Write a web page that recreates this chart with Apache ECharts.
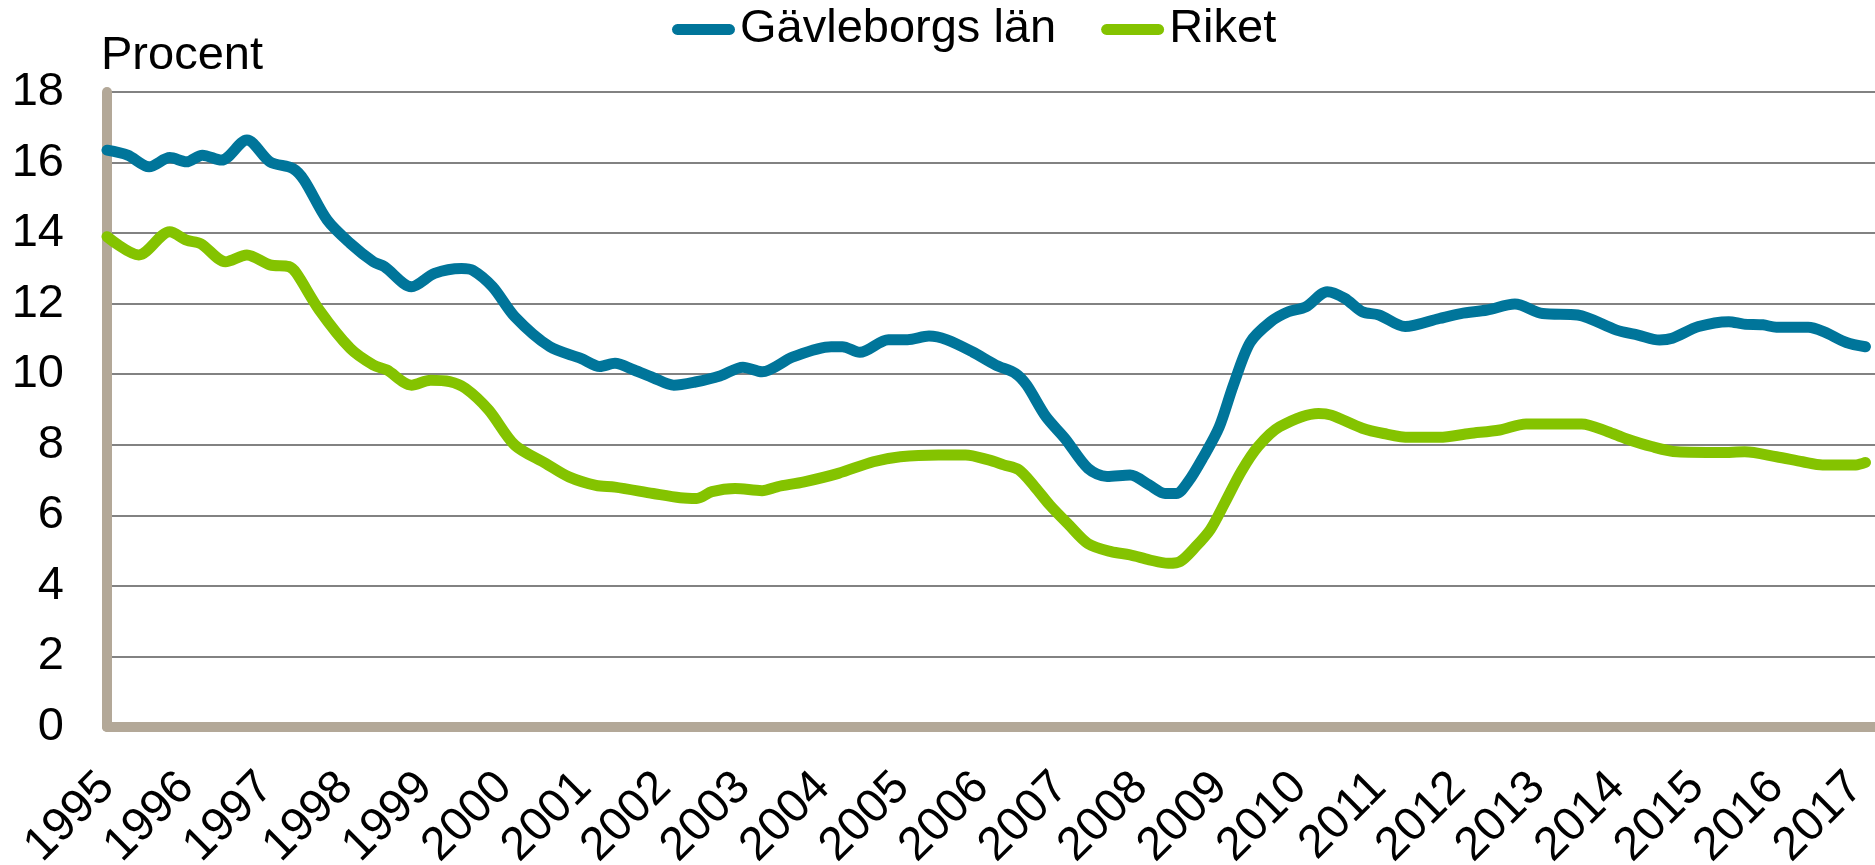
<!DOCTYPE html>
<html>
<head>
<meta charset="utf-8">
<script src="https://cdn.jsdelivr.net/npm/echarts@6/dist/echarts.min.js"></script>
<style>
  html, body { margin: 0; padding: 0; background: #fff; overflow: hidden; width: 1875px; height: 865px; }
  #chart { position: absolute; left: 0; top: 0; width: 1875px; height: 865px; overflow: hidden; }
</style>
</head>
<body>
<div id="chart"></div>
<script>
/* Arbetslöshet, Gävleborgs län och riket, 1995–2017 */
const seriesNames = ["Gävleborgs län", "Riket"];

// [år, procent]
const gavleborg = [
  [1995.00, 16.35], [1995.26, 16.21], [1995.53, 15.88], [1995.79, 16.14], [1996.00, 16.02],
  [1996.20, 16.21], [1996.44, 16.07], [1996.76, 16.64], [1997.05, 16.02], [1997.34, 15.83],
  [1997.48, 15.50], [1997.77, 14.37], [1998.06, 13.71], [1998.35, 13.19], [1998.49, 13.05],
  [1998.83, 12.48], [1999.12, 12.86], [1999.46, 13.00], [1999.60, 12.95], [1999.85, 12.48],
  [2000.13, 11.63], [2000.57, 10.78], [2000.96, 10.45], [2001.20, 10.22], [2001.39, 10.31],
  [2001.63, 10.12], [2001.87, 9.90], [2002.13, 9.69], [2002.40, 9.78], [2002.71, 9.95],
  [2003.00, 10.20], [2003.24, 10.07], [2003.63, 10.49], [2004.11, 10.78], [2004.25, 10.78],
  [2004.47, 10.62], [2004.83, 10.98], [2005.07, 10.98], [2005.34, 11.08], [2005.56, 10.98],
  [2005.89, 10.63], [2006.18, 10.26], [2006.43, 10.02], [2006.57, 9.69], [2006.81, 8.80],
  [2007.05, 8.18], [2007.34, 7.33], [2007.58, 7.10], [2007.87, 7.14], [2008.11, 6.86],
  [2008.31, 6.62], [2008.45, 6.62], [2008.60, 6.95], [2008.79, 7.65], [2008.99, 8.50],
  [2009.17, 9.70], [2009.38, 10.90], [2009.64, 11.49], [2009.86, 11.77], [2010.08, 11.91],
  [2010.35, 12.34], [2010.57, 12.15], [2010.79, 11.77], [2011.00, 11.68], [2011.33, 11.35],
  [2011.76, 11.58], [2012.03, 11.72], [2012.36, 11.82], [2012.71, 11.99], [2013.06, 11.72],
  [2013.50, 11.68], [2013.99, 11.25], [2014.26, 11.11], [2014.53, 10.97], [2014.69, 11.02],
  [2015.02, 11.35], [2015.40, 11.49], [2015.59, 11.42], [2015.83, 11.40], [2016.00, 11.33],
  [2016.40, 11.33], [2016.60, 11.20], [2016.88, 10.90], [2017.12, 10.78]
];

const riket = [
  [1995.00, 13.90], [1995.40, 13.38], [1995.79, 14.04], [1996.00, 13.80], [1996.18, 13.70],
  [1996.49, 13.19], [1996.76, 13.38], [1997.05, 13.10], [1997.29, 13.05], [1997.38, 12.87],
  [1997.67, 11.82], [1998.06, 10.73], [1998.35, 10.26], [1998.52, 10.12], [1998.83, 9.69],
  [1999.07, 9.83], [1999.31, 9.79], [1999.51, 9.60], [1999.80, 8.99], [2000.13, 7.99],
  [2000.52, 7.47], [2000.81, 7.09], [2001.15, 6.85], [2001.39, 6.80], [2001.87, 6.62],
  [2002.21, 6.50], [2002.42, 6.48], [2002.61, 6.67], [2002.90, 6.76], [2003.24, 6.70],
  [2003.43, 6.81], [2003.77, 6.95], [2004.20, 7.19], [2004.64, 7.52], [2004.98, 7.66],
  [2005.46, 7.71], [2005.80, 7.71], [2006.09, 7.57], [2006.28, 7.43], [2006.47, 7.29],
  [2006.67, 6.81], [2006.86, 6.29], [2007.10, 5.73], [2007.34, 5.20], [2007.63, 4.97],
  [2007.87, 4.88], [2008.11, 4.74], [2008.35, 4.64], [2008.50, 4.69], [2008.69, 5.10],
  [2008.88, 5.60], [2009.06, 6.35], [2009.27, 7.25], [2009.48, 7.95], [2009.75, 8.51],
  [2010.24, 8.89], [2010.40, 8.84], [2010.79, 8.47], [2011.06, 8.32], [2011.38, 8.21],
  [2011.76, 8.21], [2012.14, 8.32], [2012.52, 8.42], [2012.85, 8.59], [2013.12, 8.59],
  [2013.55, 8.59], [2013.88, 8.37], [2014.10, 8.18], [2014.43, 7.95], [2014.75, 7.80],
  [2015.30, 7.78], [2015.60, 7.80], [2016.00, 7.66], [2016.33, 7.52], [2016.58, 7.43],
  [2017.00, 7.43], [2017.12, 7.50]
];

const yMin = 0, yMax = 18, yStep = 2;
const xMin = 1995, xMax = 2017.24;

(function () {
  "use strict";
  const el = document.getElementById("chart");
  const chart = echarts.init(el, null, { renderer: "canvas", width: 1875, height: 865 });

  const font = "'Liberation Sans', Arial, sans-serif";
  const blue = "#00759a";
  const green = "#84c300";
  const beige = "#b3a898";
  const grid = "#595959";
  const pill = "path://M5,0 L58,0 A5.5,5.5 0 0 1 58,11 L5,11 A5.5,5.5 0 0 1 5,0 Z";

  // first split line (0) sits under the x axis bar, keep it invisible
  const splitColors = [];
  for (let v = yMin; v <= yMax; v += yStep) splitColors.push(v === yMin ? "rgba(0,0,0,0)" : grid);

  chart.setOption({
    animation: false,
    textStyle: { fontFamily: font, color: "#000" },
    title: {
      text: "Procent",
      left: 101, top: 33, padding: 0,
      textStyle: { fontFamily: font, fontSize: 47, fontWeight: "normal", color: "#000" }
    },
    legend: {
      data: seriesNames,
      left: 672, top: 6, padding: 0,
      itemWidth: 63, itemHeight: 11, itemGap: 45,
      icon: pill,
      textStyle: { fontFamily: font, fontSize: 47, color: "#000" }
    },
    grid: {
      left: 107, right: 0, top: 92, bottom: 138,
      containLabel: false, outerBoundsMode: "none"
    },
    xAxis: {
      type: "value",
      min: xMin, max: xMax, interval: 1,
      offset: 4, z: 3,
      axisLine: { show: true, lineStyle: { color: beige, width: 10 } },
      axisTick: { show: false },
      splitLine: { show: false },
      axisLabel: {
        rotate: 45, margin: 49, fontSize: 47, color: "#000", fontFamily: font,
        formatter: function (v) { return Number.isInteger(v) ? String(v) : ""; }
      }
    },
    yAxis: {
      type: "value",
      min: yMin, max: yMax, interval: yStep,
      axisLine: { show: true, lineStyle: { color: beige, width: 10 } },
      axisTick: { show: false },
      splitLine: { show: true, lineStyle: { color: splitColors, width: 1.5 } },
      axisLabel: { margin: 43, fontSize: 47, color: "#000", fontFamily: font }
    },
    series: [
      {
        name: seriesNames[0], type: "line", data: gavleborg,
        smooth: 0.3, showSymbol: false, symbol: "none",
        lineStyle: { color: blue, width: 11, cap: "round", join: "round" },
        itemStyle: { color: blue }, z: 2
      },
      {
        name: seriesNames[1], type: "line", data: riket,
        smooth: 0.3, showSymbol: false, symbol: "none",
        lineStyle: { color: green, width: 11, cap: "round", join: "round" },
        itemStyle: { color: green }, z: 2
      }
    ]
  });
})();
</script>
</body>
</html>
